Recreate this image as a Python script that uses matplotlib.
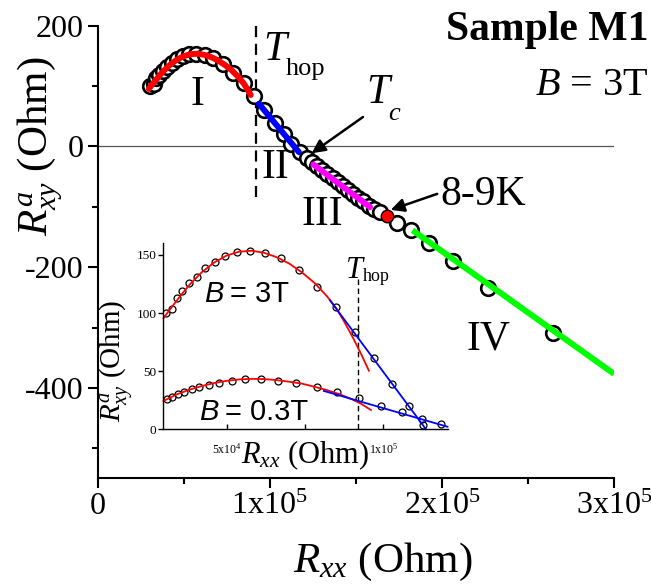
import matplotlib
matplotlib.use('Agg')
import matplotlib.pyplot as plt
import numpy as np

plt.rcParams['font.family'] = ['Liberation Serif', 'DejaVu Serif']
plt.rcParams['mathtext.fontset'] = 'custom'
plt.rcParams['mathtext.rm'] = 'Liberation Serif'
plt.rcParams['mathtext.it'] = 'Liberation Serif:italic'
plt.rcParams['mathtext.bf'] = 'Liberation Serif:bold'
plt.rcParams['axes.unicode_minus'] = False

# ---------------- data ----------------
# B = 3T, low-Rxx part (shown in both inset and main plot)
r3_xx = [30530, 32650, 34040, 35850, 38080, 40420, 43190, 46280, 49470, 53190,
         57450, 62240, 67340, 73090, 78940, 84900, 91070, 96920, 102880, 108200, 112670]
r3_xy = [100.4, 103.5, 112.7, 119.0, 125.6, 131.4, 138.5, 144.3, 149.1, 152.9,
         153.7, 151.4, 147.1, 137.1, 122.2, 105.0, 83.5, 61.1, 39.0, 20.1, 3.7]
# B = 3T, further points in the main plot
ext_xx = [117500, 121500, 124500, 127500, 130500, 133500, 136500, 139500, 142500,
          145500, 148500, 151500, 154500, 157500, 160500, 164000, 174200, 182000,
          192600, 206200, 227100, 264700]
ext_xy = [-9, -19, -26, -32, -39, -45, -52, -58.5, -65, -71.5, -78, -84.5, -91,
          -98, -103.5, -108, -126.1, -138.8, -159.8, -190.1, -233.6, -308.6]
# the 8-9K point
mark_xx = [168000]
mark_xy = [-115]

# B = 0.3T (inset)
r03_xx = [30850, 32440, 34360, 36490, 38830, 41170, 44470, 47660, 51600, 55850,
          60850, 66280, 72130, 78730, 85320, 92240, 99160, 105860, 112240, 118310]
r03_xy = [25.8, 28.1, 30.4, 31.8, 34.4, 36.1, 37.9, 40.2, 41.9, 43.0,
          43.0, 41.9, 40.2, 36.7, 31.8, 26.7, 20.4, 14.6, 8.6, 4.3]

# fit curves
fit3_xx = [29800, 32000, 35000, 38000, 42000, 46000, 50000, 54000, 58000, 62000,
           66000, 70000, 74000, 78000, 82000, 85000, 87200, 89000, 90400, 93070, 95400]
fit3_xy = [95.5, 103.5, 114, 124, 135, 143.5, 149.5, 152.8, 153.6, 151.8,
           148, 142.5, 135, 126, 114.5, 104, 94.1, 85.3, 78.3, 63.9, 50.4]
main_red_end = 89000
fit03_xx = [29800, 34000, 38000, 42000, 46000, 50000, 54000, 58000, 62000, 66000,
            70000, 74000, 78000, 82000, 86000, 90000, 93000, 96050]
fit03_xy = [24.4, 30, 34, 37.2, 39.8, 41.7, 42.9, 43.4, 43.2, 42.3,
            40.9, 39.3, 36.6, 33.7, 30.2, 25.8, 21.8, 16.6]
in_blue3_xx = [82980, 113630]
in_blue3_xy = [111, 0]
in_blue03_xx = [81000, 120500]
in_blue03_xy = [33.0, 2.2]
blue_xx = [93780, 117000]
blue_xy = [70.6, -9.4]
mag_xx = [125400, 158300]
mag_xy = [-29.8, -100.3]
green_xx = [183000, 300000]
green_xy = [-138.8, -376.5]
T_HOP = 91900

x_ticks = [0, 1e5, 2e5, 3e5]
x_ticklabels = ['0', r'$\mathrm{1x10^{5}}$', r'$\mathrm{2x10^{5}}$', r'$\mathrm{3x10^{5}}$']
y_ticks = [200, 0, -200, -400]
y_ticklabels = ['200', '0', '-200', '-400']
in_x_ticks = [5e4, 1e5]
in_x_ticklabels = [r'$\mathrm{5x10^{4}}$', r'$\mathrm{1x10^{5}}$']
in_y_ticks = [0, 50, 100, 150]
in_y_ticklabels = ['0', '50', '100', '150']

# ---------------- figure ----------------
W, H = 651, 585
fig = plt.figure(figsize=(W / 100, H / 100), dpi=100)

def fx(px):
    return px / W

def fy(py):
    return 1 - py / H

ax = fig.add_axes([fx(97.5), fy(478), (614 - 97.5) / W, (478 - 25.7) / H])
ax.set_xlim(0, 3e5)
ax.set_ylim(-549, 200)
for s in ['top', 'right']:
    ax.spines[s].set_visible(False)
for s in ['left', 'bottom']:
    ax.spines[s].set_linewidth(1.5)
ax.set_xticks(x_ticks)
ax.set_xticklabels(x_ticklabels)
ax.set_yticks(y_ticks)
ax.set_yticklabels(y_ticklabels)
ax.set_xticks([5e4, 1.5e5, 2.5e5], minor=True)
ax.set_yticks([100, -100, -300, -500], minor=True)
ax.tick_params(which='major', direction='out', length=7, width=1.5, labelsize=23, pad=3)
ax.tick_params(which='minor', direction='out', length=4, width=1.5)

ax.axhline(0, color='#555555', lw=0.9, zorder=1)
ax.plot([T_HOP, T_HOP], [200, -84], color='k', lw=1.6, ls=(0, (5, 3)), zorder=1)

all_xx = r3_xx + ext_xx
all_xy = r3_xy + ext_xy
ax.plot(all_xx, all_xy, 'o', ms=10.5, mfc='white', mec='black', mew=1.9, zorder=3)
ax.plot(mark_xx, mark_xy, 'o', ms=9, mfc='red', mec='black', mew=1.0, zorder=4)

fx3 = np.array(fit3_xx)
fy3 = np.array(fit3_xy)
sel = fx3 <= main_red_end
ax.plot(fx3[sel], fy3[sel], color='red', lw=4.3, solid_capstyle='round', zorder=5)
ax.plot(blue_xx, blue_xy, color='blue', lw=4.3, solid_capstyle='round', zorder=5)
ax.plot(mag_xx, mag_xy, color='magenta', lw=4.3, solid_capstyle='round', zorder=5)
ax.plot(green_xx, green_xy, color='#00ff00', lw=4.3, solid_capstyle='butt', zorder=5)

arrow = dict(arrowstyle='-|>', color='k', lw=1.8, mutation_scale=20, shrinkA=0, shrinkB=0)
ax.annotate('', xy=(124400, -11.2), xytext=(154200, 48.8), arrowprops=arrow, zorder=6)
ax.annotate('', xy=(170300, -105), xytext=(197300, -78.5), arrowprops=arrow, zorder=6)

# ---------------- inset ----------------
axi = fig.add_axes([fx(163.3), fy(429.3), (447.7 - 163.3) / W, (429.3 - 243.3) / H])
axi.set_facecolor('none')
axi.set_xlim(29760, 120560)
axi.set_ylim(0, 160)
for s in ['top', 'right']:
    axi.spines[s].set_visible(False)
for s in ['left', 'bottom']:
    axi.spines[s].set_linewidth(1.0)
axi.set_xticks(in_x_ticks)
axi.set_xticklabels(in_x_ticklabels)
axi.set_xticks([7.5e4], minor=True)
axi.set_yticks(in_y_ticks)
axi.set_yticklabels(in_y_ticklabels)
axi.tick_params(axis='x', which='both', direction='in', length=3.5, width=1.0, labelsize=8.5, pad=9)
axi.tick_params(axis='y', which='both', direction='out', length=3.5, width=1.0, labelsize=9.5, pad=1.5)

axi.plot([T_HOP, T_HOP], [0, 131], color='k', lw=1.0, ls=(0, (4, 2.5)))
axi.plot(r3_xx, r3_xy, 'o', ms=5, mfc='none', mec='black', mew=0.9)
axi.plot(r03_xx, r03_xy, 'o', ms=5, mfc='none', mec='black', mew=0.9)
axi.plot(fit3_xx, fit3_xy, color='red', lw=1.3, clip_on=False)
axi.plot(fit03_xx, fit03_xy, color='red', lw=1.3, clip_on=False)
axi.plot(in_blue3_xx, in_blue3_xy, color='blue', lw=1.3, clip_on=False)
axi.plot(in_blue03_xx, in_blue03_xy, color='blue', lw=1.3, clip_on=False)

# ---------------- labels / texts ----------------
fig.text(fx(40), fy(146), r'$R^{a}_{xy}$ (Ohm)', rotation=90, ha='center', va='center', fontsize=31)
fig.text(fx(383), fy(572), r'$R_{xx}$ (Ohm)', ha='center', va='baseline', fontsize=31)
fig.text(fx(116), fy(361), r'$R^{a}_{xy}$ (Ohm)', rotation=90, ha='center', va='center', fontsize=21)
fig.text(fx(305), fy(463), r'$R_{xx}$ (Ohm)', ha='center', va='baseline', fontsize=22)

fig.text(fx(648), fy(40), 'Sample M1', ha='right', va='baseline', fontsize=30, fontweight='bold')
fig.text(fx(648), fy(95), r'$B$ = 3T', ha='right', va='baseline', fontsize=29)

fig.text(fx(263), fy(60), 'T', style='italic', fontsize=30, va='baseline')
fig.text(fx(286), fy(75), 'hop', fontsize=19, va='baseline')
fig.text(fx(366), fy(103), 'T', style='italic', fontsize=30, va='baseline')
fig.text(fx(388), fy(120), 'c', style='italic', fontsize=19, va='baseline')
fig.text(fx(440), fy(205), '8-9K', fontsize=30, va='baseline')

fig.text(fx(197), fy(105), 'I', ha='center', va='baseline', fontsize=30)
fig.text(fx(275), fy(178), 'II', ha='center', va='baseline', fontsize=30)
fig.text(fx(322), fy(225), 'III', ha='center', va='baseline', fontsize=30)
fig.text(fx(488), fy(350), 'IV', ha='center', va='baseline', fontsize=30)

# inset texts
fig.text(fx(346), fy(278), 'T', style='italic', fontsize=22, va='baseline')
fig.text(fx(363), fy(281), 'hop', fontsize=13, va='baseline')
sans = ['Liberation Sans', 'DejaVu Sans']
fig.text(fx(204), fy(302), 'B', family=sans, style='italic', fontsize=21, va='baseline')
fig.text(fx(230), fy(302), '= 3T', family=sans, fontsize=21, va='baseline')
fig.text(fx(199), fy(420), 'B', family=sans, style='italic', fontsize=21, va='baseline')
fig.text(fx(225), fy(420), '= 0.3T', family=sans, fontsize=21, va='baseline')

fig.savefig('out.png', dpi=100)
